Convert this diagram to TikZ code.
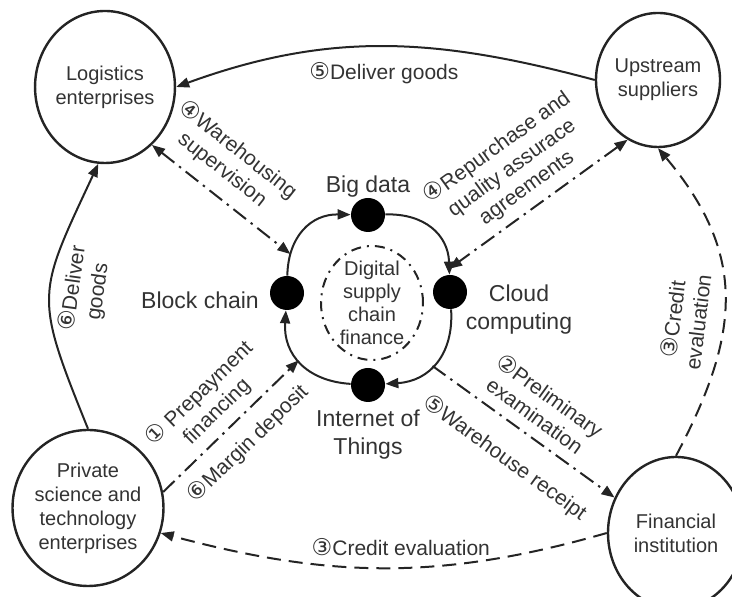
\documentclass[tikz,border=0pt]{standalone}
\usepackage{fontspec}
\setmainfont{Liberation Sans}
\newfontfamily\circfont[Scale=1.1]{DejaVu Sans}
\usetikzlibrary{arrows.meta,shapes.geometric}
\newcommand{\cnum}[1]{{\circfont #1}}
\definecolor{ink}{HTML}{242424}
\definecolor{txt}{HTML}{333333}

\begin{document}
\begin{tikzpicture}[x=0.5pt,y=0.5pt]
  \tikzset{
    party/.style={ellipse,draw=ink,line width=1.2pt,inner sep=0pt,align=center,
      text=txt,font=\fontsize{10}{12}\selectfont},
    tech/.style={circle,fill=black,minimum size=17pt,inner sep=0pt},
    techlbl/.style={align=center,text=txt,font=\fontsize{11.5}{14}\selectfont},
    flowlbl/.style={align=center,text=txt,font=\fontsize{10.5}{12.5}\selectfont},
    tip/.style={-{Triangle[length=6.5pt,width=5pt]}},
    both/.style={{Triangle[length=6.5pt,width=5pt]}-{Triangle[length=6.5pt,width=5pt]}},
    solidflow/.style={draw=ink,line width=1pt,tip},
    dashflow/.style={draw=ink,line width=1pt,tip,dash pattern=on 7pt off 4pt},
    dotflow/.style={draw=ink,line width=1pt,tip,dash pattern=on 8pt off 3pt on 1.2pt off 3pt},
    ringarc/.style={draw=ink,line width=1pt,tip,bend left=45,looseness=1.15},
  }
  \clip (0,0) rectangle (732,597);

  % parties
  \node[party,minimum width=68pt,minimum height=76pt] (log) at (105,510) {Logistics\\enterprises};
  \node[party,minimum width=62pt,minimum height=67pt] (up) at (658,517) {Upstream\\suppliers};
  \node[party,minimum width=72pt,minimum height=78pt] (priv) at (88,89) {Private\\science and\\technology\\enterprises};
  \node[party,minimum width=68pt,minimum height=76pt] (fin) at (676,64) {Financial\\institution};

  % technology ring
  \node[tech] (bd) at (368,382) {};
  \node[tech] (cc) at (450,305) {};
  \node[tech] (it) at (368,212) {};
  \node[tech] (bc) at (287,304) {};
  \node[techlbl] (bdlbl) at (368,410) {Big data};
  \node[techlbl] (cclbl) at (519,287) {Cloud\\computing};
  \node[techlbl] (itlbl) at (368,162) {Internet of\\Things};
  \node[techlbl] (bclbl) at (200,297) {Block chain};
  \draw[ringarc] (bc) to coordinate[pos=.2] (r1) (bd);
  \draw[ringarc] (bd) to coordinate[pos=.95] (r2) (cc);
  \draw[ringarc] (cc) to coordinate[pos=.55] (r4) (it);
  \draw[ringarc] (it) to coordinate[pos=.53] (r3) (bc);
  \draw[ink,line width=1pt,dash pattern=on 5pt off 3pt on 1pt off 3pt]
    (372,294) ellipse [x radius=51,y radius=57];
  \node[align=center,text=txt,font=\fontsize{10}{11.5}\selectfont] (dscf) at (372,294)
    {Digital\\supply\\chain\\finance};

  % flows
  \draw[solidflow] (up.west) to[out=165,in=20]
    node[flowlbl,below=4pt] (l5a) {\cnum{⑤}Deliver goods} (log.east);
  \draw[solidflow] (priv.north) to[out=112,in=245,looseness=1.4]
    node[flowlbl,sloped,pos=.55,below=2pt] (l6a) {\cnum{⑥}Deliver\\goods} (log.265);
  \draw[dashflow] (fin.west) to[out=196,in=345]
    node[flowlbl,pos=.46,above=2pt] (l3a) {\cnum{③}Credit evaluation} (priv.-19);
  \draw[dashflow] (fin.north) to[out=62,in=-50,looseness=1.15]
    node[flowlbl,sloped,pos=.4,above=5pt] (l3b) {\cnum{③}Credit\\evaluation} (up.south);
  \draw[dotflow,both] (log.-51) --
    node[flowlbl,sloped,pos=.4,above=3pt] (l4a) {\cnum{④}Warehousing\\supervision} (r1);
  \draw[dotflow,both] (up.243) --
    node[flowlbl,sloped,above=1pt] (l4b) {\cnum{④}Repurchase and\\quality assurace\\agreements} (r2);
  \draw[dotflow] (priv.12) --
    node[flowlbl,sloped,above=1pt] (l1) {\cnum{①} Prepayment\\financing}
    node[flowlbl,sloped,below=3pt] (l6b) {\cnum{⑥}Margin deposit} (r3);
  \draw[dotflow] (r4) --
    node[flowlbl,sloped,above=2pt] (l2) {\cnum{②}Preliminary\\examination}
    node[flowlbl,sloped,below=7pt] (l5b) {\cnum{⑤}Warehouse receipt} (fin.150);
\end{tikzpicture}
\end{document}
